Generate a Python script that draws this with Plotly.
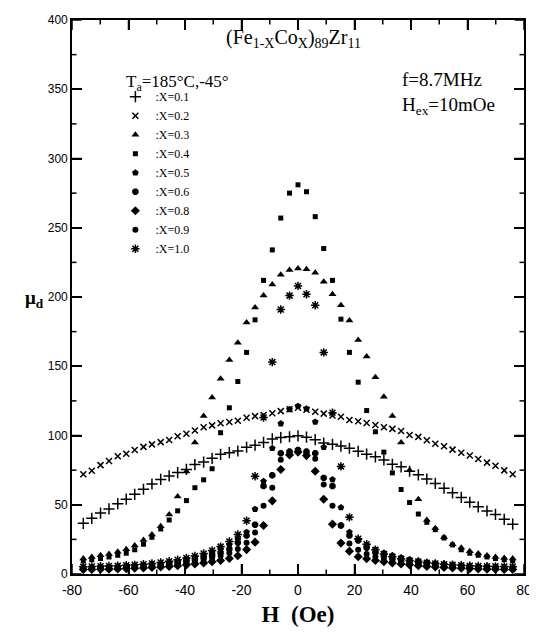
import plotly.graph_objects as go

# Field values H (Oe)
H = [-76.0, -73.0, -69.9, -66.9, -63.8, -60.8, -57.8, -54.7, -51.7, -48.6,
     -45.6, -42.6, -39.5, -36.5, -33.4, -30.4, -27.4, -24.3, -21.3, -18.2,
     -15.2, -12.2, -9.1, -6.1, -3.0, 0.0, 3.0, 6.1, 9.1, 12.2,
     15.2, 18.2, 21.3, 24.3, 27.4, 30.4, 33.4, 36.5, 39.5, 42.6,
     45.6, 48.6, 51.7, 54.7, 57.8, 60.8, 63.8, 66.9, 69.9, 73.0, 76.0]

mu_x01 = [36.6, 40.2, 44.0, 47.0, 50.8, 54.0, 57.5, 61.2, 65.0, 68.3,
          70.8, 73.2, 75.5, 79.0, 80.8, 83.5, 86.4, 87.6, 88.8, 91.5,
          93.0, 95.0, 97.5, 98.5, 99.1, 99.8, 98.8, 97.0, 94.6, 93.6,
          92.4, 90.8, 88.6, 86.5, 84.6, 82.3, 79.2, 77.4, 74.2, 71.6,
          68.6, 65.4, 62.0, 58.6, 55.3, 51.8, 48.5, 45.5, 43.0, 39.5, 36.0]

mu_x02 = [72.0, 74.5, 78.6, 81.6, 85.0, 86.8, 89.5, 91.8, 93.6, 95.2,
          96.8, 99.5, 101.2, 103.6, 105.9, 107.3, 108.8, 109.8, 110.6, 112.8,
          114.0, 114.8, 116.0, 117.6, 118.9, 120.0, 118.6, 117.2, 115.8, 114.5,
          113.5, 111.2, 110.3, 109.0, 107.6, 106.0, 104.8, 103.2, 100.4, 99.0,
          96.6, 94.0, 92.3, 89.8, 87.6, 85.6, 83.0, 80.4, 78.2, 74.8, 72.0]

mu_x03 = [11.2, 12.3, 13.5, 14.5, 16.0, 17.8, 20.5, 24.5, 28.5, 34.5,
          43.0, 56.0, 74.0, 95.0, 114.0, 127.5, 141.0, 154.5, 167.0, 181.5,
          192.5, 201.0, 209.0, 216.0, 219.5, 220.5, 220.0, 217.5, 211.0, 202.0,
          194.0, 183.0, 169.0, 157.0, 142.0, 128.0, 114.0, 95.0, 75.0, 54.0,
          39.0, 33.0, 26.5, 21.5, 19.0, 16.5, 14.8, 13.3, 12.3, 11.6, 11.2]

mu_x04 = [9.5, 10.3, 11.2, 12.3, 13.5, 15.0, 17.5, 21.5, 26.5, 32.5,
          39.0, 45.6, 53.0, 62.3, 68.0, 76.0, 102.0, 120.0, 139.0, 160.0,
          183.5, 212.0, 234.0, 257.0, 275.0, 281.0, 276.0, 258.0, 235.0, 212.0,
          184.0, 160.0, 138.5, 118.0, 102.7, 88.0, 73.0, 61.0, 51.6, 43.3,
          37.3, 32.0, 26.0, 21.0, 17.5, 15.0, 13.5, 12.3, 11.2, 10.3, 9.5]

mu_x05 = [4.8, 4.9, 5.1, 5.3, 5.5, 5.8, 6.1, 6.5, 7.0, 7.6,
          8.4, 9.4, 10.6, 12.0, 13.8, 15.8, 18.2, 21.0, 25.0, 30.2,
          46.8, 67.0, 90.8, 108.6, 118.9, 121.2, 119.3, 109.8, 91.5, 68.2,
          48.0, 30.2, 25.0, 20.7, 17.5, 15.2, 13.3, 11.8, 10.5, 9.4,
          8.5, 7.7, 7.1, 6.6, 6.2, 5.8, 5.5, 5.2, 5.0, 4.9, 4.8]

mu_x06 = [4.2, 4.3, 4.5, 4.7, 4.9, 5.2, 5.5, 5.9, 6.3, 6.9,
          7.6, 8.5, 9.5, 10.6, 12.0, 13.6, 15.5, 18.0, 22.6, 27.8,
          35.6, 63.5, 71.3, 87.2, 88.4, 89.6, 88.4, 87.2, 69.4, 63.5,
          35.0, 27.8, 24.2, 19.0, 15.5, 13.4, 11.8, 10.4, 9.3, 8.3,
          7.5, 6.8, 6.2, 5.7, 5.3, 5.0, 4.7, 4.5, 4.3, 4.2, 4.2]

mu_x08 = [3.2, 3.3, 3.4, 3.5, 3.7, 3.9, 4.1, 4.4, 4.7, 5.1,
          5.5, 6.0, 6.6, 7.3, 8.0, 8.8, 9.8, 11.2, 13.2, 17.6,
          23.0, 35.0, 52.8, 75.4, 86.0, 88.0, 85.5, 74.2, 54.0, 36.0,
          22.3, 16.5, 12.5, 11.0, 9.8, 8.8, 8.0, 7.2, 6.6, 6.0,
          5.5, 5.1, 4.7, 4.4, 4.1, 3.9, 3.7, 3.5, 3.4, 3.3, 3.2]

mu_x09 = [3.7, 3.8, 4.0, 4.1, 4.3, 4.5, 4.8, 5.1, 5.5, 6.0,
          6.6, 7.3, 8.1, 9.1, 10.2, 11.6, 13.2, 15.2, 18.0, 22.5,
          30.0, 49.2, 62.3, 82.5, 87.0, 88.5, 87.0, 83.2, 64.7, 49.2,
          35.0, 22.0, 17.5, 14.5, 12.5, 11.0, 9.8, 8.8, 8.0, 7.2,
          6.5, 6.0, 5.5, 5.1, 4.8, 4.5, 4.3, 4.1, 4.0, 3.8, 3.7]

mu_x10 = [5.3, 5.4, 5.6, 5.8, 6.0, 6.3, 6.6, 7.0, 7.6, 8.3,
          9.2, 10.3, 11.5, 13.0, 14.8, 17.0, 19.8, 23.5, 28.6, 38.5,
          70.6, 113.0, 153.0, 191.0, 201.0, 208.0, 202.0, 194.0, 160.0, 116.5,
          77.7, 40.9, 25.5, 21.5, 17.5, 14.5, 12.5, 11.0, 9.8, 9.0,
          8.2, 7.6, 7.1, 6.7, 6.3, 6.0, 5.8, 5.6, 5.5, 5.4, 5.3]

series_names = [":X=0.1", ":X=0.2", ":X=0.3", ":X=0.4", ":X=0.5",
                ":X=0.6", ":X=0.8", ":X=0.9", ":X=1.0"]
series_values = [mu_x01, mu_x02, mu_x03, mu_x04, mu_x05,
                 mu_x06, mu_x08, mu_x09, mu_x10]

x_tick_vals = [-80, -60, -40, -20, 0, 20, 40, 60, 80]
x_tick_text = ["-80", "-60", "-40", "-20", "0", "20", "40", "60", "80"]
x_minor_vals = [-70, -50, -30, -10, 10, 30, 50, 70]
y_tick_vals = [0, 50, 100, 150, 200, 250, 300, 350, 400]
y_tick_text = ["0", "50", "100", "150", "200", "250", "300", "350", "400"]
y_minor_vals = [25, 75, 125, 175, 225, 275, 325, 375]

styles = [
    dict(symbol="cross-thin-open", size=8, line=dict(width=1.5, color="black")),
    dict(symbol="x-thin-open", size=6, line=dict(width=1.5, color="black")),
    dict(symbol="triangle-up", size=7),
    dict(symbol="square", size=5),
    dict(symbol="pentagon", size=7),
    dict(symbol="octagon", size=7),
    dict(symbol="diamond", size=7),
    dict(symbol="circle", size=6),
    dict(symbol="asterisk-open", size=7, line=dict(width=1.5, color="black")),
]

SERIF = "Liberation Serif, Times New Roman, serif"
SANS = "Liberation Sans, Arial, sans-serif"

fig = go.Figure()
for name, vals, st in zip(series_names, series_values, styles):
    m = dict(color="black")
    m.update(st)
    fig.add_trace(go.Scatter(x=H, y=vals, mode="markers", name=name, marker=m))

# inward tick marks on all four sides, placed through the axis scales
tick_line = dict(color="black", width=1.5)
shapes = []
for vals, frac in ((x_tick_vals, 0.018), (x_minor_vals, 0.008)):
    for v in vals:
        shapes.append(dict(type="line", xref="x", yref="paper", x0=v, x1=v,
                           y0=0, y1=frac, line=tick_line, layer="above"))
        shapes.append(dict(type="line", xref="x", yref="paper", x0=v, x1=v,
                           y0=1, y1=1 - frac, line=tick_line, layer="above"))
for vals, frac in ((y_tick_vals, 0.021), (y_minor_vals, 0.010)):
    for v in vals:
        shapes.append(dict(type="line", xref="paper", yref="y", x0=0, x1=frac,
                           y0=v, y1=v, line=tick_line, layer="above"))
        shapes.append(dict(type="line", xref="paper", yref="y", x0=1, x1=1 - frac,
                           y0=v, y1=v, line=tick_line, layer="above"))

fig.update_layout(
    width=529, height=624,
    margin=dict(l=64, r=8, t=5, b=58),
    paper_bgcolor="white", plot_bgcolor="white",
    showlegend=True,
    shapes=shapes,
    legend=dict(
        x=0.096, y=0.8877, xanchor="left", yanchor="top",
        bgcolor="rgba(0,0,0,0)", borderwidth=0,
        font=dict(family=SERIF, size=12, color="black"),
        tracegroupgap=0,
    ),
    annotations=[
        dict(text="(Fe<sub>1-X</sub>Co<sub>X</sub>)<sub>89</sub>Zr<sub>11</sub>",
             xref="paper", yref="paper", x=0.49, y=0.966,
             xanchor="center", yanchor="middle", showarrow=False,
             font=dict(family=SERIF, size=20, color="black")),
        dict(text="T<sub>a</sub>=185°C,-45°", xref="paper", yref="paper",
             x=0.116, y=0.886, xanchor="left", yanchor="middle", showarrow=False,
             font=dict(family=SERIF, size=17, color="black")),
        dict(text="f=8.7MHz<br>H<sub>ex</sub>=10mOe", xref="paper", yref="paper",
             x=0.725, y=0.868, xanchor="left", yanchor="middle", align="left",
             showarrow=False, font=dict(family=SERIF, size=19, color="black")),
        dict(text="<b>μ<sub>d</sub></b>", xref="paper", yref="paper", x=-0.083, y=0.497,
             xanchor="center", yanchor="middle", showarrow=False,
             font=dict(family=SERIF, size=19, color="black")),
    ],
)

fig.update_xaxes(
    range=[-80, 80], tickmode="array", tickvals=x_tick_vals, ticktext=x_tick_text,
    ticks="inside", ticklen=10, tickwidth=1.5, tickcolor="black",
    showline=True, linecolor="black", linewidth=1.6, mirror="ticks",
    showgrid=False, zeroline=False, ticklabeloverflow="allow", ticklabelstandoff=2,
    tickfont=dict(family=SANS, size=14, color="black"),
    title=dict(text="<b>H  (Oe)</b>", font=dict(family=SERIF, size=23, color="black"), standoff=9),
)
fig.update_yaxes(
    range=[0, 400], tickmode="array", tickvals=y_tick_vals, ticktext=y_tick_text,
    ticks="inside", ticklen=10, tickwidth=1.5, tickcolor="black",
    showline=True, linecolor="black", linewidth=1.6, mirror="ticks",
    showgrid=False, zeroline=False, ticklabeloverflow="allow",
    tickfont=dict(family=SANS, size=12, color="black"),
)

fig.write_html("out.html")
